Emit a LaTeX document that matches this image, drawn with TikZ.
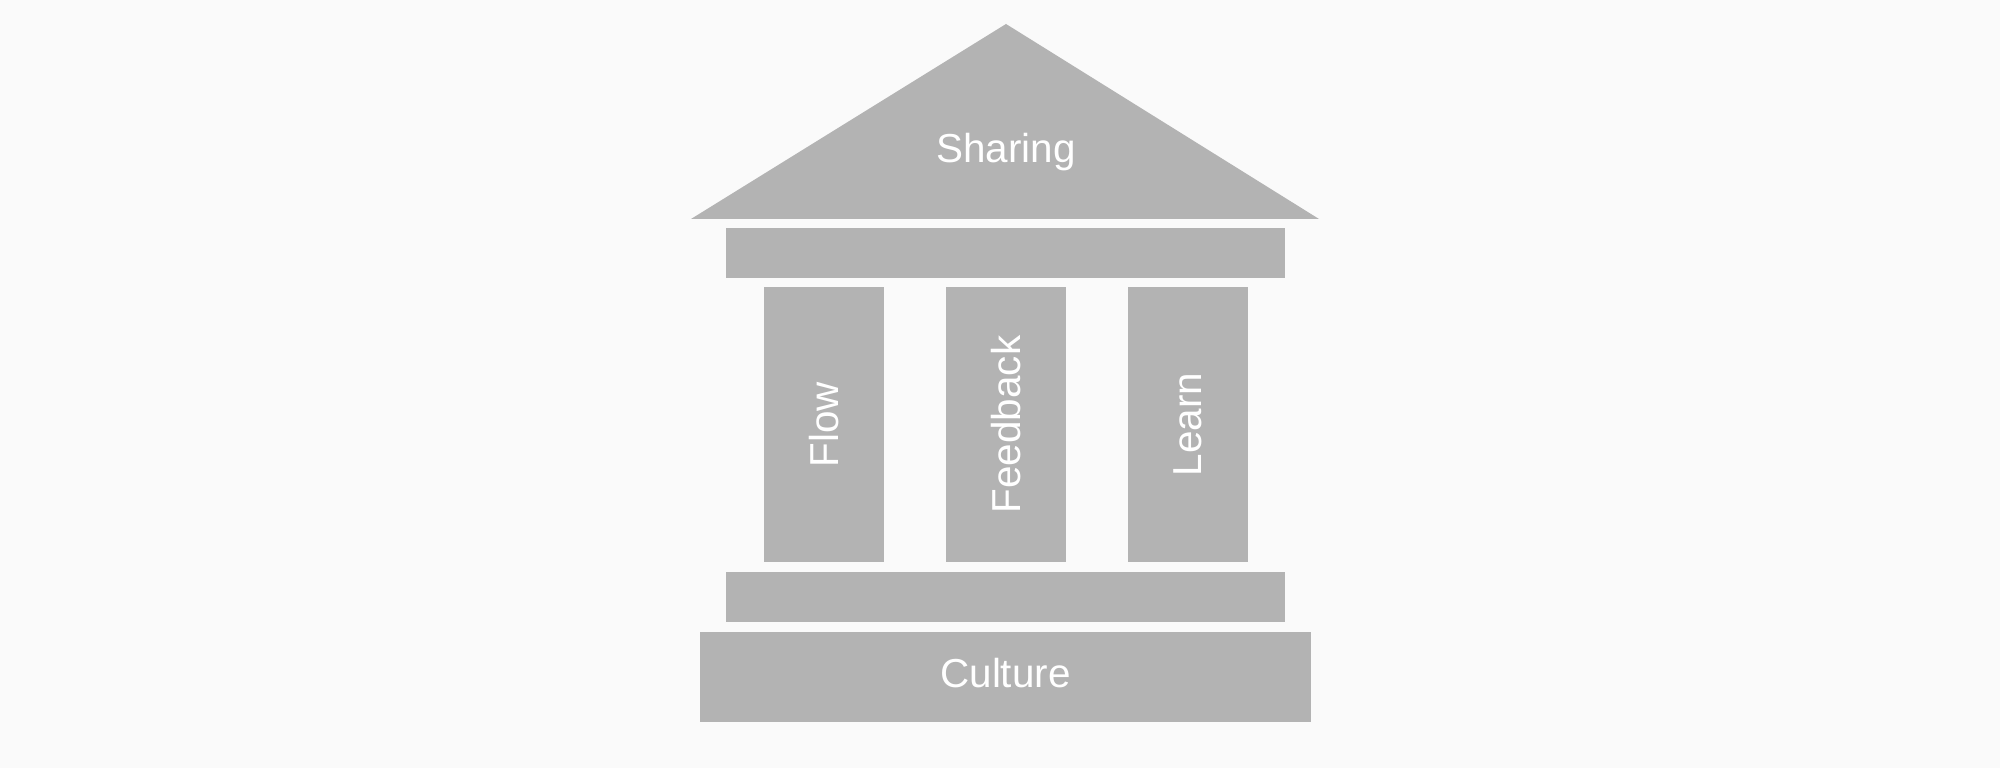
\documentclass[tikz,border=0pt]{standalone}
\usepackage{fontspec}
\setmainfont{Liberation Sans}
\usepackage{tikz}
\usetikzlibrary{positioning}
\definecolor{pillargray}{HTML}{B3B3B3}
\definecolor{bggray}{HTML}{FAFAFA}

\begin{document}
\begin{tikzpicture}[
            block/.style={rectangle, fill=pillargray, inner sep=0pt},
            beam/.style={block, minimum width=5.59cm, minimum height=0.5cm},
            pillar/.style={block, minimum width=1.2cm, minimum height=2.75cm},
            label/.style={text=white, font=\fontsize{11.5}{13}\selectfont},
            pillar label/.style={label, rotate=90}
    ]
        % Background
        \fill[bggray] (0,0) rectangle (20,7.68);
        \useasboundingbox (0,0) rectangle (20,7.68);

        % Roof
        \fill[pillargray] (6.91,5.49) -- (10.06,7.44) -- (13.19,5.49) -- cycle;
        \node[label] (sharing) at (10.06,6.16) {Sharing};

        % Beams
        \node[beam] (top_beam) at (10.055,5.15) {};
        \node[beam] (bottom_beam) at (10.055,1.71) {};

        % Pillars
        \node[pillar] (flow) at (8.24,3.435) {};
        \node[pillar] (feedback) at (10.06,3.435) {};
        \node[pillar] (learn) at (11.88,3.435) {};
        \node[pillar label] (flow_txt) at (flow) {Flow};
        \node[pillar label] (feedback_txt) at (feedback) {Feedback};
        \node[pillar label] (learn_txt) at (learn) {Learn};

        % Base
        \node[block, minimum width=6.11cm, minimum height=0.9cm] (base) at (10.055,0.91) {};
        \node[label] (culture) at (10.055,0.95) {Culture};

    \end{tikzpicture}
\end{document}
